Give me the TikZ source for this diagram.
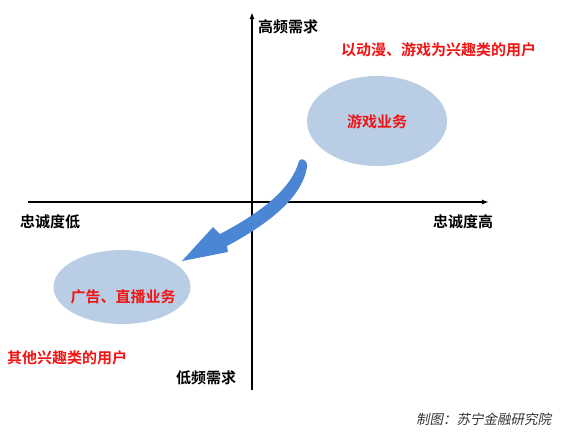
\documentclass[tikz,border=0pt]{standalone}
\usepackage{fontspec}
\newfontfamily\cjkb[BoldFont={Noto Sans CJK SC Bold}]{Noto Sans CJK SC}
\newfontfamily\cjk{Noto Sans CJK SC}
\definecolor{ellfill}{RGB}{185,205,229}
\definecolor{arrblue}{RGB}{74,134,212}
\definecolor{lblred}{RGB}{240,20,20}
\tikzset{
  axis/.style={line width=1.6pt,-{Latex[length=7pt,width=5pt]}},
  blob/.style={ellipse,fill=ellfill,draw=none},
  lbl/.style={font=\cjkb\bfseries\fontsize{15}{18}\selectfont,text=black,inner sep=0pt},
  redlbl/.style={font=\cjkb\bfseries\fontsize{15}{18}\selectfont,text=lblred,inner sep=0pt},
  foot/.style={font=\cjk\fontsize{13.5}{16}\selectfont\itshape,text=black!80,inner sep=0pt,xslant=0.2}
}
\usetikzlibrary{shapes.geometric,arrows.meta}
\begin{document}
\begin{tikzpicture}[x=1pt,y=-1pt]
\useasboundingbox (0,0) rectangle (570,432);
% ellipses
\node[blob,minimum width=140pt,minimum height=90pt] (game) at (377,121) {};
\node[blob,minimum width=137pt,minimum height=74pt] (ad) at (122,287) {};
% axes
\coordinate (xl) at (28,202);
\coordinate (xr) at (489,202);
\coordinate (yb) at (252,390);
\coordinate (yt) at (252,12);
\draw[axis] (xl) -- (xr);
\draw[axis] (yb) -- (yt);
% curved arrow
\fill[arrblue] (299,161) .. controls (292,188) and (262,212) .. (220,234)
  -- (213,227) -- (182,261) -- (228,252) -- (227,246)
  .. controls (268,224) and (302,198) .. (307,167)
  .. controls (308,160) and (301,157) .. (299,161) -- cycle;
% labels
\node[lbl,anchor=west] (high) at (258,27) {高频需求};
\node[lbl,anchor=west] (low) at (176,378) {低频需求};
\node[lbl,anchor=west] (lowl) at (20,222) {忠诚度低};
\node[lbl,anchor=west] (highl) at (433,222) {忠诚度高};
\node[redlbl,anchor=west] (top) at (341,50) {以动漫、游戏为兴趣类的用户};
\node[redlbl,anchor=west] (bot) at (7,358) {其他兴趣类的用户};
\node[redlbl] (gtxt) at (377,122) {游戏业务};
\node[redlbl] (atxt) at (123,297) {广告、直播业务};
\node[foot,anchor=west] (src) at (417,419) {制图：苏宁金融研究院};
\end{tikzpicture}
\end{document}
